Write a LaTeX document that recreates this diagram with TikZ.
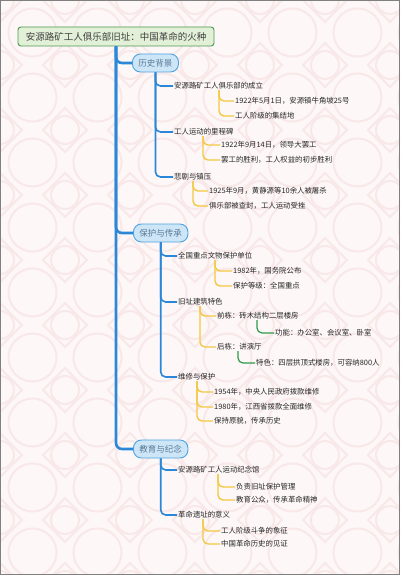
\documentclass[tikz,border=0pt]{standalone}
\usepackage{fontspec}
\setmainfont{Noto Sans CJK SC}
\definecolor{bgcol}{HTML}{FDF7F7}
\definecolor{patcol}{HTML}{F9E8E8}
\definecolor{rootgreen}{HTML}{4E9A4E}
\definecolor{rootfill}{HTML}{E2F0D8}
\definecolor{topicline}{HTML}{4DA3E0}
\definecolor{topicfill}{HTML}{CDE6F7}
\definecolor{topictext}{HTML}{5A7896}
\definecolor{bluel}{HTML}{2B87D8}
\definecolor{yell}{HTML}{F3C843}
\definecolor{greenl}{HTML}{2E9B4A}
\begin{document}
\begin{tikzpicture}[x=1pt,y=-1pt,
  every node/.style={font=\fontsize{7.4}{9}\selectfont, text=black!85, inner sep=1pt, anchor=west},
  rootbox/.style={draw=rootgreen, fill=rootfill, line width=0.9pt, rounded corners=3pt, minimum width=196pt, minimum height=19pt, anchor=center, font=\fontsize{9.5}{11}\selectfont, text=black!75},
  topicbox/.style={draw=topicline, fill=topicfill, line width=0.9pt, rounded corners=8pt, minimum height=18pt, inner xsep=6pt, anchor=west, font=\fontsize{8.5}{10}\selectfont, text=topictext},
  trunk/.style={draw=bluel, line width=2.6pt, rounded corners=6pt},
  lvtwo/.style={draw=bluel, line width=1.6pt, rounded corners=5pt},
  lvthree/.style={draw=yell, line width=1.4pt, rounded corners=5pt},
  lvfour/.style={draw=greenl, line width=1.2pt, rounded corners=5pt},
  pat/.style={draw=patcol, line width=2pt}
]
\useasboundingbox (0,0) rectangle (400,575);
\fill[bgcol] (0,0) rectangle (400,575);
\begin{scope}
\clip (0,0) rectangle (400,575);
\foreach \i in {0,...,6}{
  \foreach \j in {0,...,9}{
    \draw[pat] (\i*65,\j*65) circle (14);
    \draw[pat] (\i*65-22,\j*65) -- (\i*65,\j*65-22) -- (\i*65+22,\j*65) -- (\i*65,\j*65+22) -- cycle;
    \draw[pat] (\i*65+32.5,\j*65+32.5) circle (24);
  }
}
\end{scope}
\draw[gray, line width=1pt] (0.5,0.5) rectangle (399.5,574.5);

% root and topics
\node[rootbox] (root) at (116,36.5) {安源路矿工人俱乐部旧址：中国革命的火种};
\node[topicbox] (t1) at (132,63) {历史背景};
\node[topicbox] (t2) at (133,233) {保护与传承};
\node[topicbox] (t3) at (133,449) {教育与纪念};
\draw[trunk] (root.south) |- (t1.west);
\draw[trunk] (root.south) |- (t2.west);
\draw[trunk] (root.south) |- (t3.west);

% branch 1
\node (a) at (173,86) {安源路矿工人俱乐部的成立};
\node (b) at (173,132) {工人运动的里程碑};
\node (c) at (173,177) {悲剧与镇压};
\draw[lvtwo] (t1.south) |- (a.west);
\draw[lvtwo] (t1.south) |- (b.west);
\draw[lvtwo] (t1.south) |- (c.west);

\node (a1) at (234,101) {1922年5月1日，安源镇牛角坡25号};
\node (a2) at (234,116) {工人阶级的集结地};
\coordinate (as) at (219,90);
\draw[lvthree] (as) |- (a1.west);
\draw[lvthree] (as) |- (a2.west);

\node (b1) at (220,145) {1922年9月14日，领导大罢工};
\node (b2) at (220,160) {罢工的胜利，工人权益的初步胜利};
\coordinate (bs) at (203,136);
\draw[lvthree] (bs) |- (b1.west);
\draw[lvthree] (bs) |- (b2.west);

\node (c1) at (208,191) {1925年9月，黄静源等10余人被屠杀};
\node (c2) at (208,206) {俱乐部被查封，工人运动受挫};
\coordinate (cs) at (193,181);
\draw[lvthree] (cs) |- (c1.west);
\draw[lvthree] (cs) |- (c2.west);

% branch 2
\node (d) at (177,256) {全国重点文物保护单位};
\node (e) at (177,302) {旧址建筑特色};
\node (f) at (177,377) {维修与保护};
\draw[lvtwo] (t2.south) |- (d.west);
\draw[lvtwo] (t2.south) |- (e.west);
\draw[lvtwo] (t2.south) |- (f.west);

\node (d1) at (232,271) {1982年，国务院公布};
\node (d2) at (232,286) {保护等级：全国重点};
\coordinate (ds) at (215,260);
\draw[lvthree] (ds) |- (d1.west);
\draw[lvthree] (ds) |- (d2.west);

\node (e1) at (216,316) {前栋：砖木结构二层楼房};
\node (e2) at (216,347) {后栋：讲演厅};
\coordinate (es) at (200,306);
\draw[lvthree] (es) |- (e1.west);
\draw[lvthree] (es) |- (e2.west);

\node (e11) at (274,333) {功能：办公室、会议室、卧室};
\coordinate (e1s) at (257,320);
\draw[lvfour] (e1s) |- (e11.west);
\node (e21) at (255,363) {特色：四层拱顶式楼房，可容纳800人};
\coordinate (e2s) at (238,351);
\draw[lvfour] (e2s) |- (e21.west);

\node (f1) at (213,392) {1954年，中央人民政府拨款维修};
\node (f2) at (213,407) {1980年，江西省拨款全面维修};
\node (f3) at (213,421) {保持原貌，传承历史};
\coordinate (fs) at (197,381);
\draw[lvthree] (fs) |- (f1.west);
\draw[lvthree] (fs) |- (f2.west);
\draw[lvthree] (fs) |- (f3.west);

% branch 3
\node (g) at (177,470) {安源路矿工人运动纪念馆};
\node (h) at (177,515) {革命遗址的意义};
\draw[lvtwo] (t3.south) |- (g.west);
\draw[lvtwo] (t3.south) |- (h.west);

\node (g1) at (235,487) {负责旧址保护管理};
\node (g2) at (235,500) {教育公众，传承革命精神};
\coordinate (gs) at (218,474);
\draw[lvthree] (gs) |- (g1.west);
\draw[lvthree] (gs) |- (g2.west);

\node (h1) at (220,531) {工人阶级斗争的象征};
\node (h2) at (220,544) {中国革命历史的见证};
\coordinate (hs) at (203,519);
\draw[lvthree] (hs) |- (h1.west);
\draw[lvthree] (hs) |- (h2.west);
\end{tikzpicture}
\end{document}
